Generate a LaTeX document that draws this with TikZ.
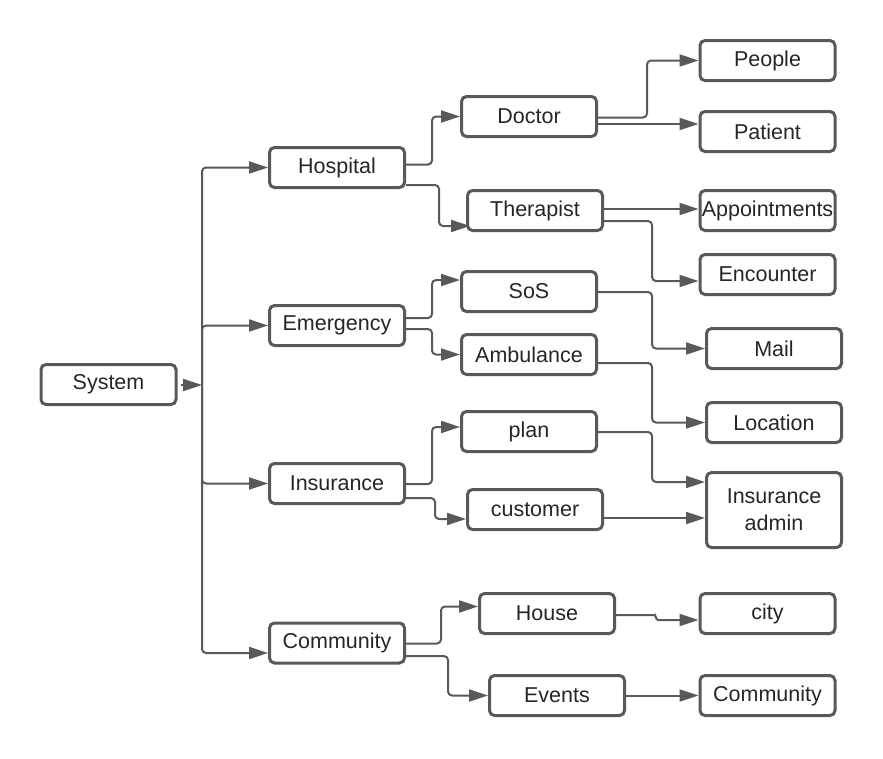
\documentclass[tikz,border=0pt]{standalone}
\usepackage{fontspec}
\setmainfont{Liberation Sans}
\usetikzlibrary{arrows.meta,calc}
\definecolor{linec}{HTML}{595959}
\definecolor{textc}{HTML}{262626}
\tikzset{
  box/.style={draw=linec, line width=3pt, rounded corners=5pt, fill=white,
    minimum width=135pt, minimum height=40pt, inner sep=0pt, text=textc,
    font=\fontsize{21.5}{27}\selectfont, align=center},
  conn/.style={draw=linec, line width=2pt, rounded corners=4pt,
    -{Triangle[length=19pt,width=12pt]}}
}
\begin{document}
\begin{tikzpicture}[x=1pt,y=-1pt]
\useasboundingbox (0,0) rectangle (883,758);
% level 0
\node[box] (sys) at (108.5,384.5) {System};
% level 1
\node[box] (hosp) at (337,167.5) {Hospital};
\node[box] (emer) at (337,325.5) {Emergency};
\node[box] (ins) at (337,483.5) {Insurance};
\node[box] (com) at (337,643) {Community};
% level 2
\node[box] (doc) at (529,116.5) {Doctor};
\node[box] (ther) at (535,210.5) {Therapist};
\node[box] (sos) at (529,291.5) {SoS};
\node[box] (amb) at (529,354.5) {Ambulance};
\node[box] (plan) at (529,431.5) {plan};
\node[box] (cust) at (535,509.5) {customer};
\node[box] (house) at (547,613.5) {House};
\node[box] (events) at (557,695.5) {Events};
% level 3
\node[box] (people) at (767.5,60.5) {People};
\node[box] (patient) at (767.5,131.5) {Patient};
\node[box] (appt) at (767.5,210.5) {Appointments};
\node[box] (enc) at (767.5,274.5) {Encounter};
\node[box] (mail) at (774,348.5) {Mail};
\node[box] (loc) at (774,422.5) {Location};
\node[box, minimum height=75pt] (insadm) at (774,510) {Insurance\\admin};
\node[box] (city) at (767.5,613.5) {city};
\node[box] (com2) at (767.5,695.5) {Community};

% trunk
\coordinate (trunk) at (202,385);
\draw[conn] ([yshift=-0.5pt]sys.east) ++(3,0) -- (trunk);
\draw[conn] (trunk) |- (hosp.west);
\draw[conn] (trunk) |- (emer.west);
\draw[conn] (trunk) |- (ins.west);
\draw[conn] (trunk) |- ([yshift=-10pt]com.west);

% Hospital
\draw[conn] ([yshift=3pt]hosp.east) -- ++(26,0) |- (doc.west);
\draw[conn] ([yshift=-17.5pt]hosp.east) -- ++(33,0) |- ([xshift=4pt,yshift=-15.5pt]ther.west);
\draw[conn] ([yshift=-1pt]doc.east) -- ++(49,0) |- (people.west);
\draw[conn] ([yshift=-7.5pt]doc.east) -- ([yshift=-7.5pt]doc.east -| patient.west);
\draw[conn] ([yshift=1.5pt]ther.east) -- ([yshift=1.5pt]ther.east -| appt.west);
\draw[conn] ([yshift=-10.5pt]ther.east) -- ++(48,0) |- ([yshift=-6.5pt]enc.west);

% Emergency
\draw[conn] ([yshift=7.5pt]emer.east) -- ++(26,0) |- ([yshift=11.5pt]sos.west);
\draw[conn] ([yshift=-3.5pt]emer.east) -- ++(26,0) |- (amb.west);
\draw[conn] ([yshift=-0.5pt]sos.east) -- ++(54,0) |- (mail.west);
\draw[conn] ([yshift=-8.5pt]amb.east) -- ++(54,0) |- (loc.west);

% Insurance
\draw[conn] ([yshift=-0.5pt]ins.east) -- ++(26,0) |- ([yshift=4.5pt]plan.west);
\draw[conn] ([yshift=-14.5pt]ins.east) -- ++(29,0) |- ([yshift=-9.5pt]cust.west);
\draw[conn] ([yshift=-0.5pt]plan.east) -- ++(54,0) |- ([yshift=28pt]insadm.west);
\draw[conn] ([yshift=-8.5pt]cust.east) -- ([yshift=-8.5pt]cust.east -| insadm.west);

% Community
\draw[conn] ([yshift=-0.5pt]com.east) -- ++(35,0) |- ([yshift=7pt]house.west);
\draw[conn] ([yshift=-13pt]com.east) -- ++(42,0) |- (events.west);
\draw[conn, rounded corners=2.5pt] ([yshift=-1.5pt]house.east) -- ++(40,0) -- ++(0,5) |- ([yshift=-6.5pt]city.west);
\draw[conn] (events.east) -- (com2.west);
\end{tikzpicture}
\end{document}
